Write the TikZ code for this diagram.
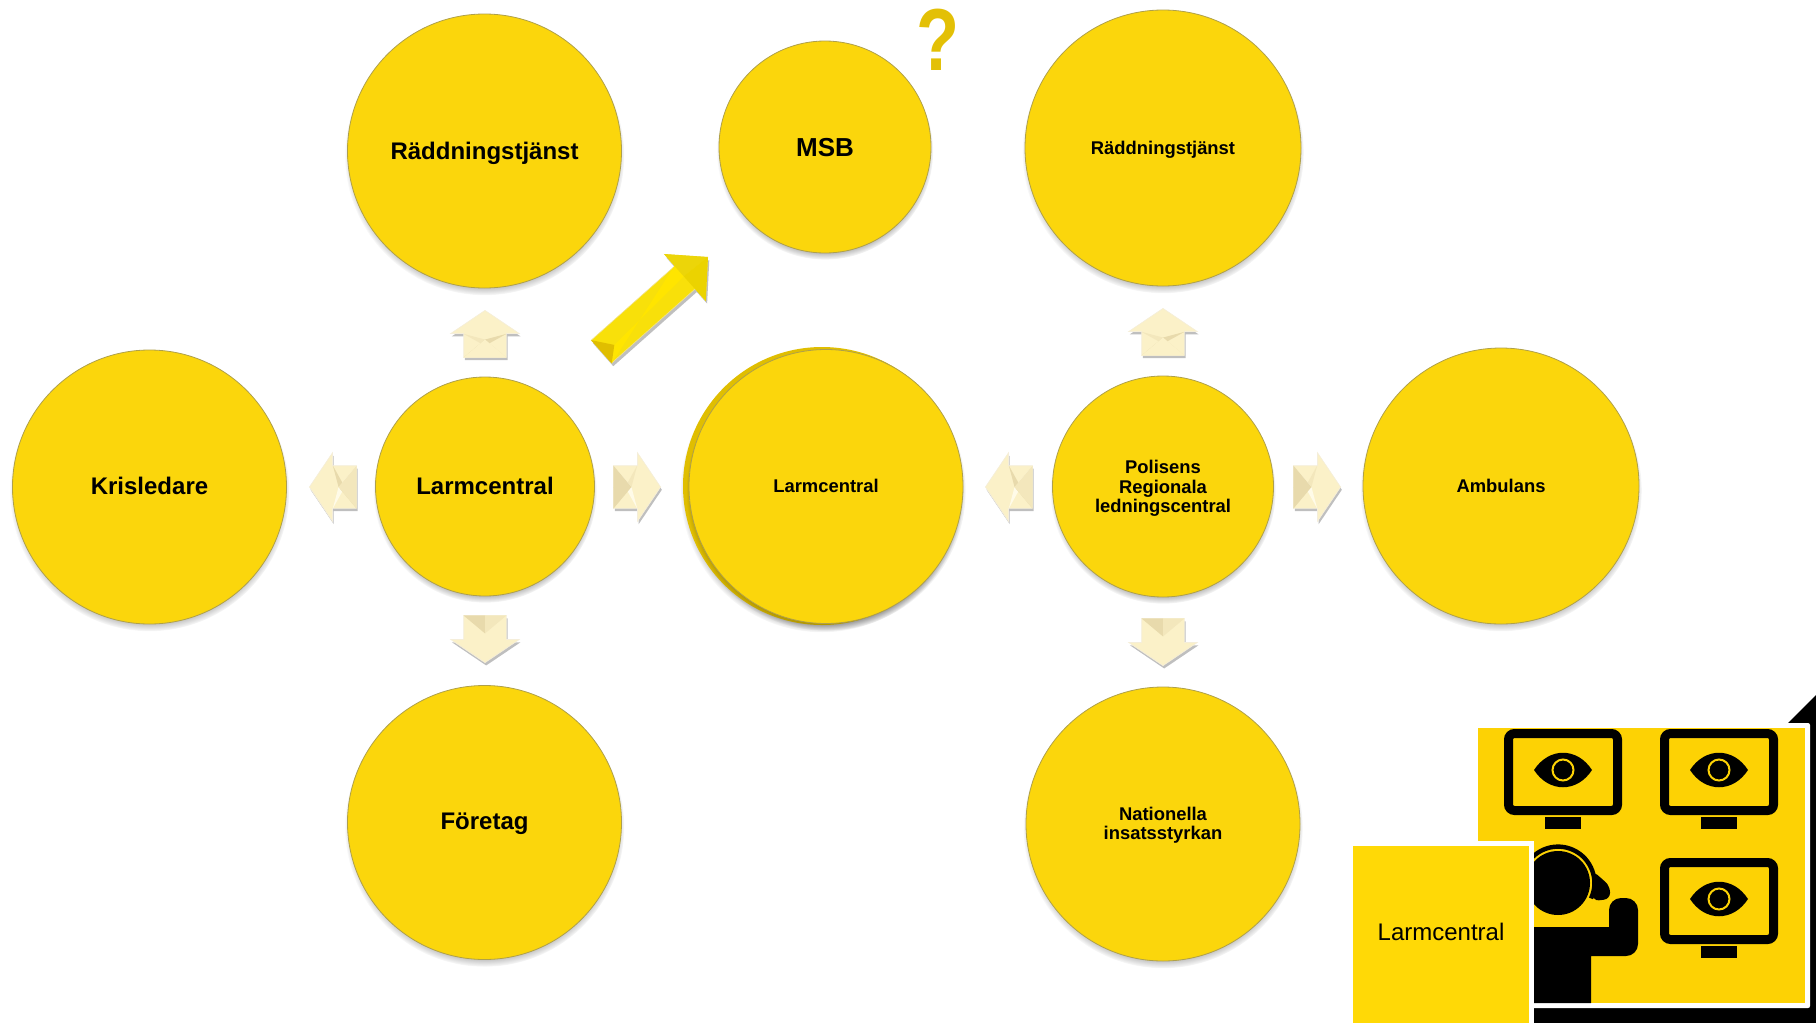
\documentclass[tikz,border=0pt]{standalone}
\usepackage{fontspec}
\setmainfont{Liberation Sans}
\usetikzlibrary{shapes.arrows, shadows, calc}
\definecolor{discmain}{HTML}{FBD60C}
\definecolor{discrim}{HTML}{FFE116}
\definecolor{discedge}{HTML}{AFA04A}
\definecolor{panelgold}{HTML}{FDD204}
\definecolor{labelgold}{HTML}{FFD906}
\definecolor{querygold}{HTML}{E3C006}
\definecolor{creamA}{HTML}{FBF1C8}
\definecolor{creamB}{HTML}{E8DAAC}
\definecolor{creamC}{HTML}{F3E7BC}
\definecolor{creamD}{HTML}{FFFBE8}
\definecolor{arrowmain}{HTML}{F8E00A}
\definecolor{arrowlow}{HTML}{FFE500}
\definecolor{arrowdark}{HTML}{E0BE00}
\pgfdeclareradialshading{discbevel}{\pgfpoint{0bp}{-4bp}}{color(0bp)=(discmain); color(40bp)=(discmain); color(50bp)=(discrim); color(56bp)=(discrim)}
\tikzset{
  discbase/.style={circle, inner sep=0pt, outer sep=0pt, minimum size=138pt,
    circular drop shadow={shadow xshift=0pt, shadow yshift=-2.2pt, shadow scale=1.02, opacity=.6, fill=black}},
  disc/.style={discbase, draw=discedge, line width=.4pt, shading=discbevel, text depth=0pt,
    align=center, text=black, font=\bfseries\fontsize{9.2}{9.6}\selectfont},
  bigtext/.style={font=\bfseries\fontsize{12}{13}\selectfont},
  hintarrow/.style={single arrow, anchor=tip, fill=creamA, draw=white!55!creamB, line width=.3pt,
    inner xsep=0pt, inner ysep=10.5pt, minimum height=23.5pt, single arrow head extend=6.5pt,
    single arrow tip angle=112,
    drop shadow={shadow xshift=.6pt, shadow yshift=-1.4pt, opacity=.25, fill=black}},
  screen/.style={draw=black, line width=4.5pt, rounded corners=3pt, fill=panelgold, inner sep=0pt, outer sep=0pt,
    minimum width=54.5pt, minimum height=38.5pt},
  stand/.style={fill=black, inner sep=0pt, minimum width=18pt, minimum height=6pt},
  iris/.style={circle, fill=black, draw=panelgold, line width=1pt, inner sep=0pt, minimum size=10.5pt}
}
\begin{document}
\begin{tikzpicture}[x=.5pt, y=-.5pt]
  \useasboundingbox (0,0) rectangle (1816,1023);
  % second disc behind the middle one
  \node[discbase, fill=arrowdark, minimum size=139pt] (midback) at (822,486) {};
  % discs
  \node[disc, bigtext, minimum size=137pt] (raddLeft) at (484.5,151) {Räddningstjänst};
  \node[disc, font=\bfseries\fontsize{13}{14}\selectfont, minimum size=106pt] (msb) at (825,147) {MSB};
  \node[disc] (raddRight) at (1163,148) {Räddningstjänst};
  \node[disc, bigtext, minimum size=137pt, text depth=1pt] (kris) at (149.5,487) {Krisledare};
  \node[disc, bigtext, minimum size=109.5pt, text depth=1pt] (larmLeft) at (485,486.5) {Larmcentral};
  \node[disc, minimum size=137pt, text depth=1pt] (larmMid) at (826,486.5) {Larmcentral};
  \node[disc, minimum size=110.5pt] (polis) at (1163,486.5) {Polisens\\Regionala\\ledningscentral};
  \node[disc] (ambulans) at (1501,486) {Ambulans};
  \node[disc, bigtext, minimum size=137pt, text depth=1pt] (foretag) at (484.5,822.5) {Företag};
  \node[disc, minimum size=137pt, text depth=1pt] (nationella) at (1163,824) {Nationella\\insatsstyrkan};
  % small arrows
  \node[hintarrow, rotate=90] (upLeft) at (485,310) {};
  \node[hintarrow, rotate=180] (westLeft) at (309,487) {};
  \node[hintarrow] (eastLeft) at (661,487) {};
  \node[hintarrow, rotate=-90] (downLeft) at (485,663) {};
  \node[hintarrow, rotate=90] (upRight) at (1163,308) {};
  \node[hintarrow, rotate=180] (westRight) at (985,487) {};
  \node[hintarrow] (eastRight) at (1341,487) {};
  \node[hintarrow, rotate=-90] (downRight) at (1163,666) {};
  % facets of the small arrows
  \foreach \aname/\ta/\tb/\sa/\sb in {
      upLeft/creamA/creamA/creamC/creamB, upRight/creamA/creamA/creamC/creamB,
      eastLeft/creamB/creamB/creamC/creamD, eastRight/creamB/creamB/creamC/creamD,
      westLeft/creamC/creamC/creamD/creamB, westRight/creamC/creamC/creamD/creamB,
      downLeft/creamB/creamC/creamA/creamA, downRight/creamB/creamC/creamA/creamA} {
    \coordinate (apex) at ($(\aname.tail)!.38!(\aname.tip)$);
    \fill[\sa] (\aname.before tail) -- (apex) -- (\aname.before head) -- cycle;
    \fill[\sb] (\aname.after tail) -- (apex) -- (\aname.after head) -- cycle;
    \fill[\ta] (\aname.before tail) -- (\aname.tail) -- (apex) -- cycle;
    \fill[\tb] (\aname.after tail) -- (\aname.tail) -- (apex) -- cycle;
  }
  % arrow to MSB
  \node[single arrow, anchor=tip, rotate=41.6, fill=arrowmain, draw=white!55!arrowdark, line width=.3pt,
    inner xsep=0pt, inner ysep=7.5pt, minimum height=71pt, single arrow head extend=7.75pt,
    single arrow tip angle=91, drop shadow={shadow xshift=.8pt, shadow yshift=-1.6pt, opacity=.25, fill=black}] (msbArrow) at (708,257) {};
  \coordinate (ridgeTail) at ($(msbArrow.before tail)!.45!(msbArrow.after tail)+(12,-8)$);
  \coordinate (ridgeHead) at ($(msbArrow.before head)!.45!(msbArrow.after head)$);
  \fill[arrowlow] (msbArrow.before tail) -- (ridgeTail) -- (ridgeHead) -- (msbArrow.before head) -- cycle;
  \fill[arrowdark] (msbArrow.before tail) -- (msbArrow.after tail) -- (ridgeTail) -- cycle;
  \fill[black!5!arrowmain] (msbArrow.tip) -- (msbArrow.before tip) -- (msbArrow.before head) -- (ridgeHead) -- cycle;
  \fill[black!8!arrowlow] (msbArrow.tip) -- (msbArrow.after tip) -- (msbArrow.after head) -- (ridgeHead) -- cycle;
  \node[text=querygold, font=\bfseries\fontsize{44}{44}\selectfont, xscale=.8, inner sep=0pt] (query) at (938,40) {?};
  % panel with the operator and the screens
  \fill[black] (1788,723) -- (1816,695) -- (1816,1023) -- (1534,1023) -- (1534,1000) -- cycle;
  \node[fill=white, inner sep=0pt, outer sep=0pt, minimum width=168.5pt, minimum height=142.5pt, rounded corners=1pt] (panelframe) at (1641.5,865.5) {};
  \node[fill=panelgold, inner sep=0pt, outer sep=0pt, minimum width=163.5pt, minimum height=137.5pt] (panel) at (1641.5,865.5) {};
  \foreach \mname/\mx/\my in {scrA/1563/772, scrB/1719/772, scrC/1719/901} {
    \node[screen] (\mname) at (\mx,\my) {};
    \node[stand] (\mname stand) at ($(\mname)+(0,51)$) {};
    \fill[black] ($(\mname)+(-29,-2)$) .. controls ($(\mname)+(-14,-25)$) and ($(\mname)+(14,-25)$) .. ($(\mname)+(29,-2)$)
      .. controls ($(\mname)+(14,21)$) and ($(\mname)+(-14,21)$) .. cycle;
    \node[iris] (\mname iris) at ($(\mname)+(0,-2)$) {};
  }
  % operator
  \node[circle, fill=black, inner sep=0pt, minimum size=32pt] (head) at (1558,883) {};
  \draw[line width=2.2pt] ($(head)+(33,15.4)$) arc[start angle=-25, end angle=150, radius=18.2pt];
  \fill[black, rounded corners=3pt] (1593,871) -- (1610,886) -- (1610,899) -- (1593,901) -- cycle;
  \fill[black] (1534,927) -- (1609,927) [rounded corners=6pt] -- (1609,898) -- (1638,898) -- (1638,956) [sharp corners] -- (1591,956) -- (1591,1003) -- (1534,1003) -- cycle;
  % label
  \node[fill=white, inner sep=0pt, outer sep=0pt, minimum width=93pt, minimum height=91pt] (labelframe) at (1441,932) {};
  \node[fill=labelgold, inner sep=0pt, outer sep=0pt, minimum width=88pt, minimum height=88.5pt, text depth=2.3pt,
    font=\fontsize{12}{13}\selectfont] (label) at (1441,934.5) {Larmcentral};
\end{tikzpicture}
\end{document}
